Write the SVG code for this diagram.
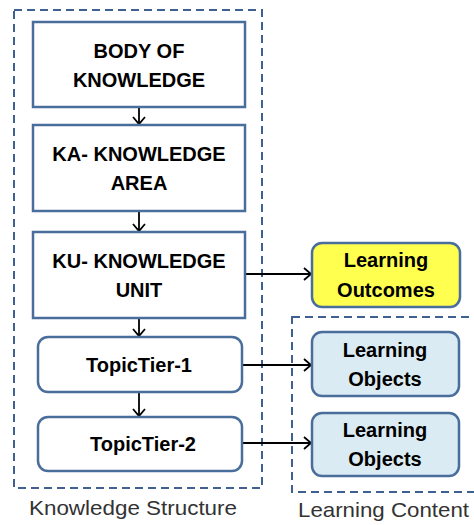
<svg xmlns="http://www.w3.org/2000/svg" width="474" height="525" viewBox="0 0 474 525">
<defs>
<marker id="arr" markerUnits="userSpaceOnUse" markerWidth="12" markerHeight="14" refX="9" refY="7" orient="auto">
<path d="M2,1 L9,7 L2,13" fill="none" stroke="#000" stroke-width="1.8"/>
</marker>
<style>
.box{fill:#fff;stroke:#4a6e9c;stroke-width:2.5}
.blue{fill:#daebf3;stroke:#4a6e9c;stroke-width:2.5}
.yel{fill:#ffff50;stroke:#4a6e9c;stroke-width:2.5}
.dash{fill:none;stroke:#3e6191;stroke-width:2;stroke-dasharray:8 5}
.t{font-family:"Liberation Sans",Arial,sans-serif;font-weight:bold;font-size:20px;fill:#000;text-anchor:middle}
.lbl{font-family:"Liberation Sans",Arial,sans-serif;font-size:21px;fill:#333}
.c{fill:none;stroke:#000;stroke-width:1.8;marker-end:url(#arr)}
</style>
</defs>
<g id="knowledge-structure">
<rect class="dash" x="14" y="10" width="248" height="478"/>
<text class="lbl" x="29" y="515" textLength="208" lengthAdjust="spacingAndGlyphs">Knowledge Structure</text>
</g>
<g id="learning-content">
<rect class="dash" x="292" y="317" width="186" height="175"/>
<text class="lbl" x="298" y="517" textLength="171" lengthAdjust="spacingAndGlyphs">Learning Content</text>
</g>
<g id="connectors">
<line class="c" x1="139" y1="107" x2="139" y2="124"/>
<line class="c" x1="139" y1="211" x2="139" y2="231"/>
<line class="c" x1="139" y1="318" x2="139" y2="336"/>
<line class="c" x1="139" y1="392" x2="139" y2="416"/>
<line class="c" x1="245" y1="274" x2="311" y2="274"/>
<line class="c" x1="242" y1="365" x2="311" y2="365"/>
<line class="c" x1="242" y1="443" x2="311" y2="443"/>
</g>
<g id="body-of-knowledge">
<rect class="box" x="33" y="22" width="212" height="85"/>
<text class="t" x="139" y="58">BODY OF</text>
<text class="t" x="139" y="87">KNOWLEDGE</text>
</g>
<g id="ka">
<rect class="box" x="33" y="125" width="212" height="86"/>
<text class="t" x="139" y="161">KA- KNOWLEDGE</text>
<text class="t" x="139" y="190">AREA</text>
</g>
<g id="ku">
<rect class="box" x="33" y="232" width="212" height="86"/>
<text class="t" x="139" y="268">KU- KNOWLEDGE</text>
<text class="t" x="139" y="297">UNIT</text>
</g>
<g id="topictier-1">
<rect class="box" x="38" y="337" width="204" height="55" rx="10"/>
<text class="t" x="139" y="372">TopicTier-1</text>
</g>
<g id="topictier-2">
<rect class="box" x="38" y="417" width="204" height="54" rx="10"/>
<text class="t" x="143" y="451">TopicTier-2</text>
</g>
<g id="learning-outcomes">
<rect class="yel" x="312" y="243" width="148" height="64" rx="10"/>
<text class="t" x="386" y="267">Learning</text>
<text class="t" x="386" y="297">Outcomes</text>
</g>
<g id="learning-objects-1">
<rect class="blue" x="312" y="332" width="147" height="64" rx="10"/>
<text class="t" x="385" y="357">Learning</text>
<text class="t" x="385" y="386">Objects</text>
</g>
<g id="learning-objects-2">
<rect class="blue" x="312" y="413" width="147" height="63" rx="10"/>
<text class="t" x="385" y="437">Learning</text>
<text class="t" x="385" y="466">Objects</text>
</g>
</svg>
